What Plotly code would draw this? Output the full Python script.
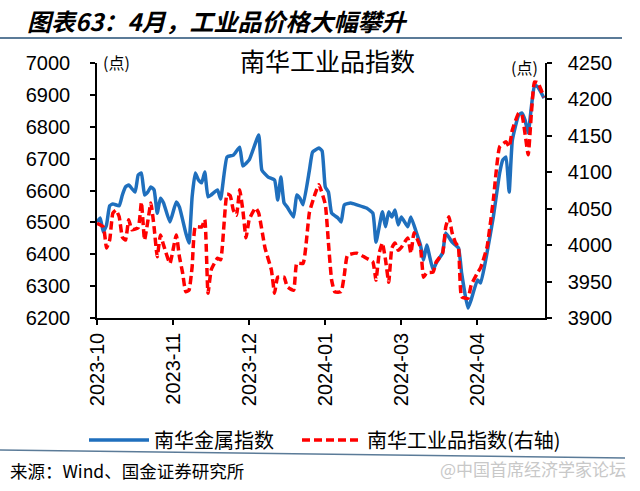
import plotly.graph_objects as go

# --- Data ---
tick_pos = [0, 24, 48, 72, 96, 120]
tick_labels = ["2023-10", "2023-11", "2023-12", "2024-01", "2024-03", "2024-04"]

metal_x = [0, 1, 2, 3, 4, 5, 7, 8, 9, 10, 12, 13, 14, 15, 16, 17, 18, 19, 20, 21,
           23, 25, 26, 28, 29, 30, 31, 32, 33, 34, 35, 36, 38, 39, 41, 43, 45, 46, 48, 51,
           52, 54, 56, 57, 58, 59, 60, 62, 63, 64, 65, 67, 68, 70, 71, 72, 73, 74, 76, 77,
           78, 80, 82, 85, 87, 88, 90, 91, 92, 93, 94, 95, 96, 98, 99, 101, 102, 103, 104, 106,
           107, 109, 110, 112, 114, 115, 116, 117, 118, 120, 121, 123, 125, 127, 128, 129, 130, 131, 133, 134,
           135, 136, 137, 138, 139, 141]
metal_index = [6501, 6514, 6470, 6492, 6552, 6558, 6552, 6586, 6611, 6617, 6595, 6649, 6655, 6586, 6595, 6611, 6602, 6529, 6576, 6561,
               6501, 6564, 6548, 6467, 6435, 6580, 6655, 6633, 6624, 6658, 6580, 6586, 6602, 6573, 6705, 6711, 6736, 6677, 6696, 6774,
               6664, 6642, 6633, 6570, 6642, 6561, 6548, 6517, 6586, 6576, 6555, 6664, 6721, 6733, 6724, 6611, 6595, 6529, 6514, 6501,
               6555, 6561, 6555, 6545, 6529, 6438, 6533, 6486, 6533, 6517, 6539, 6492, 6517, 6486, 6517, 6460, 6429, 6382, 6429, 6351,
               6373, 6404, 6467, 6438, 6420, 6341, 6279, 6231, 6257, 6319, 6310, 6404, 6517, 6655, 6696, 6705, 6595, 6758, 6837, 6843,
               6821, 6780, 6862, 6931, 6925, 6890]

ind_x = [0, 2, 3, 4, 5, 6, 7, 8, 9, 10, 11, 13, 14, 15, 16, 17, 18, 19, 20, 21,
         23, 25, 26, 27, 28, 29, 30, 31, 33, 34, 35, 36, 37, 38, 39, 41, 42, 43, 44, 45,
         46, 47, 48, 50, 51, 53, 55, 56, 57, 59, 60, 62, 63, 65, 67, 69, 70, 72, 73, 74,
         75, 77, 78, 79, 82, 85, 87, 88, 89, 90, 91, 92, 93, 94, 95, 96, 98, 99, 100, 102,
         103, 104, 106, 107, 109, 110, 111, 112, 113, 114, 115, 117, 118, 120, 121, 123, 125, 127, 129, 130,
         131, 133, 134, 136, 137, 138, 139, 141]
ind_index = [4030, 4025, 3996, 4007, 4044, 4048, 4039, 4011, 4007, 4035, 4021, 4024, 4059, 4007, 4032, 4058, 4025, 3984, 4014, 4000,
             3975, 4014, 3984, 3962, 3936, 3938, 3970, 4025, 4025, 4035, 3934, 3966, 3975, 3982, 3980, 4070, 4068, 4048, 4041, 4076,
             4048, 4010, 4035, 4051, 4044, 3996, 3966, 3934, 3956, 3956, 3943, 3938, 3975, 3975, 4045, 4073, 4083, 4056, 4003, 3952,
             3936, 3936, 3959, 3986, 3989, 3982, 3977, 3952, 3989, 4003, 3980, 3949, 3996, 4003, 3993, 3997, 4010, 3989, 4017, 3997,
             3956, 3962, 3963, 3977, 3989, 4025, 4039, 4017, 4004, 3997, 3929, 3927, 3945, 3962, 3969, 3997, 4062, 4135, 4142, 4135,
             4158, 4181, 4179, 4124, 4181, 4224, 4223, 4203]

series_names = ["南华金属指数", "南华工业品指数(右轴)"]

CJK = "Noto Sans CJK SC"
NUM = "Liberation Sans, Arial"

fig = go.Figure()
fig.add_trace(go.Scatter(
    x=metal_x, y=metal_index, name=series_names[0], mode="lines",
    line=dict(color="#1f6fbd", width=3.5, shape="spline", smoothing=0.4),
    yaxis="y", legend="legend"))
fig.add_trace(go.Scatter(
    x=ind_x, y=ind_index, name=series_names[1], mode="lines",
    line=dict(color="#ff0000", width=3.5, dash="8px,4px", shape="spline", smoothing=0.4),
    yaxis="y2", legend="legend2"))

# paper coordinate helpers (plot area px: x 97..545, y 63..318)
def px(x):
    return (x - 97) / 448.0

def py(y):
    return (318 - y) / 255.0

axis_common = dict(showline=True, linecolor="black", linewidth=1.5, ticks="outside",
                   ticklen=5, tickwidth=1.5, tickcolor="black", showgrid=False, zeroline=False,
                   automargin=False,
                   tickfont=dict(family=NUM, size=20, color="black"))

legend_common = dict(orientation="h", y=py(440), xanchor="left", yanchor="middle",
                     font=dict(family=CJK, size=20, color="black"), bgcolor="rgba(0,0,0,0)",
                     itemwidth=60)

fig.update_layout(
    width=640, height=491,
    margin=dict(l=97, r=95, t=63, b=173, autoexpand=False),
    paper_bgcolor="white", plot_bgcolor="white",
    showlegend=True,
    legend=dict(x=px(84), **legend_common),
    legend2=dict(x=px(297), **legend_common),
    xaxis=dict(range=[0, 141.3], tickmode="array", tickvals=tick_pos, ticktext=tick_labels,
               tickangle=-90, **axis_common),
    yaxis=dict(range=[6200, 7000], dtick=100, ticklabelstandoff=16, **axis_common),
    yaxis2=dict(range=[3900, 4250], dtick=50, overlaying="y", side="right",
                ticklabelstandoff=12, **axis_common),
)

fig.add_shape(type="line", xref="paper", yref="paper", x0=px(0), x1=px(622), y0=py(38), y1=py(38),
              line=dict(color="#5b7b98", width=2))
fig.add_shape(type="line", xref="paper", yref="paper", x0=px(0), x1=px(625), y0=py(450), y1=py(458),
              line=dict(color="#5b7b98", width=1.5))

fig.add_annotation(text="图表63：4月，工业品价格大幅攀升", xref="paper", yref="paper",
                   x=px(25), y=py(21), xanchor="left", yanchor="middle", showarrow=False,
                   font=dict(family=CJK, size=24, color="black", weight="bold", style="italic"))
fig.add_annotation(text="南华工业品指数", xref="paper", yref="paper",
                   x=px(327), y=py(60), xanchor="center", yanchor="middle", showarrow=False,
                   font=dict(family=CJK, size=25, color="black"))
fig.add_annotation(text="(点)", xref="paper", yref="paper",
                   x=px(116), y=py(62), xanchor="center", yanchor="middle", showarrow=False,
                   font=dict(family=CJK, size=16, color="black"))
fig.add_annotation(text="(点)", xref="paper", yref="paper",
                   x=px(524), y=py(67), xanchor="center", yanchor="middle", showarrow=False,
                   font=dict(family=CJK, size=16, color="black"))
fig.add_annotation(text="来源：Wind、国金证券研究所", xref="paper", yref="paper",
                   x=px(8), y=py(470), xanchor="left", yanchor="middle", showarrow=False,
                   font=dict(family=CJK, size=17.5, color="black"))
fig.add_annotation(text="@中国首席经济学家论坛", xref="paper", yref="paper",
                   x=px(628), y=py(468), xanchor="right", yanchor="middle", showarrow=False,
                   font=dict(family=CJK, size=17, color="#c8c8c8"))

fig.write_html("out.html", config={"displayModeBar": False},
               post_script="document.body.style.margin='0px';")
